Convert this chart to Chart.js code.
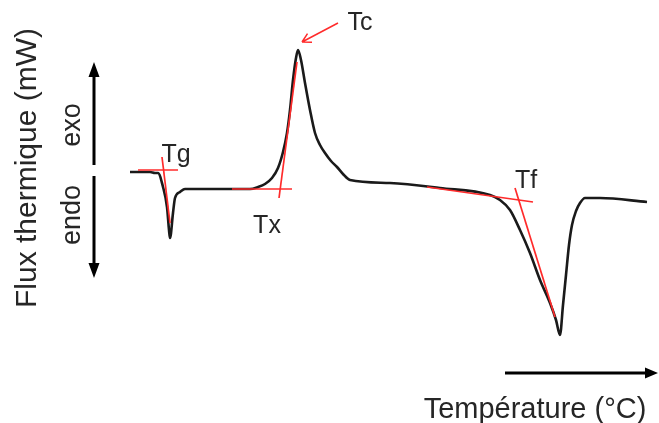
<!DOCTYPE html>
<html>
<head>
<meta charset="utf-8">
<script src="https://cdn.jsdelivr.net/npm/chart.js@4.4.0/dist/chart.umd.min.js"></script>
<style>
  html, body { margin: 0; padding: 0; background: #fff; }
  #wrap { width: 659px; height: 423px; }
</style>
</head>
<body>
<div id="wrap"><canvas id="dsc" width="659" height="423"></canvas></div>
<script>
const temperature = [130, 150, 155, 158, 163, 167, 169, 170, 173, 175, 180, 185, 200, 250, 258, 265, 272, 278, 283, 287, 290, 293, 296, 298, 301, 305, 310, 315, 320, 325, 331, 337, 343, 350, 390, 440, 490, 500, 510, 520, 530, 540, 550, 556, 560, 563, 566, 569, 572, 576, 580, 585, 600, 647];
const flux = [251, 251, 250, 250, 236, 216, 193, 185, 210, 225, 231, 234, 234, 234, 236, 239, 245, 255, 271, 290, 313, 343, 365, 373, 363, 340, 313, 290, 278, 270, 262, 256, 249, 243, 240, 235, 228, 223, 213, 193, 170, 143, 120, 103, 88, 118, 148, 178, 198, 212, 220, 225, 225, 221];

// tangentes (rouge) : [x1, x2] et [y1, y2]
const tgBaseX = [138, 178], tgBaseY = [253, 253];
const tgSlopeX = [162, 170], tgSlopeY = [266, 200];
const txBaseX = [232, 292], txBaseY = [234, 234];
const txSlopeX = [279, 297], txSlopeY = [225, 361];
const tfBaseX = [427, 533], tfBaseY = [236, 221];
const tfSlopeX = [515, 555], tfSlopeY = [235, 106];

const pts = (xs, ys) => xs.map((x, i) => ({ x: x, y: ys[i] }));

const red = '#ff2b2b';
const ink = '#262626';

function redLine(xs, ys) {
    return {
        data: pts(xs, ys),
        borderColor: red,
        borderWidth: 1.7,
        pointRadius: 0,
        tension: 0,
        order: 0
    };
}

// annotations : flèches, étiquettes, titres
const annotations = {
    id: 'annotations',
    afterDatasetsDraw(chart) {
        const c = chart.ctx;
        const sx = chart.scales.x, sy = chart.scales.y;
        const X = v => sx.getPixelForValue(v);
        const Y = v => sy.getPixelForValue(v);

        c.save();

        // flèche Tc
        const ax1 = X(338), ay1 = Y(400), ax2 = X(302), ay2 = Y(381);
        c.strokeStyle = red;
        c.lineWidth = 1.5;
        c.beginPath();
        c.moveTo(ax1, ay1);
        c.lineTo(ax2, ay2);
        const ang = Math.atan2(ay2 - ay1, ax2 - ax1);
        c.moveTo(ax2, ay2);
        c.lineTo(ax2 - 10 * Math.cos(ang - 0.5), ay2 - 10 * Math.sin(ang - 0.5));
        c.moveTo(ax2, ay2);
        c.lineTo(ax2 - 10 * Math.cos(ang + 0.5), ay2 - 10 * Math.sin(ang + 0.5));
        c.stroke();

        // flèches exo / endo
        c.strokeStyle = '#000';
        c.fillStyle = '#000';
        c.lineWidth = 3;
        c.beginPath();
        c.moveTo(X(94), Y(258)); c.lineTo(X(94), Y(350));
        c.moveTo(X(94), Y(247)); c.lineTo(X(94), Y(155));
        c.moveTo(X(505), Y(50)); c.lineTo(X(648), Y(50));
        c.stroke();
        c.beginPath();
        c.moveTo(X(94), Y(361)); c.lineTo(X(88.5), Y(346)); c.lineTo(X(99.5), Y(346)); c.closePath();
        c.moveTo(X(94), Y(145)); c.lineTo(X(88.5), Y(160)); c.lineTo(X(99.5), Y(160)); c.closePath();
        c.moveTo(X(658), Y(50)); c.lineTo(X(645), Y(55.5)); c.lineTo(X(645), Y(44.5)); c.closePath();
        c.fill();

        // étiquettes des températures caractéristiques
        c.fillStyle = ink;
        c.font = '25px "Liberation Sans", Arial, sans-serif';
        c.textAlign = 'center';
        c.textBaseline = 'alphabetic';
        c.fillText('Tg', X(176), Y(261));
        c.fillText('Tx', X(267), Y(190));
        c.fillText('Tc', X(360), Y(393));
        c.fillText('Tf', X(526), Y(235));

        // titres des axes
        c.font = '29px "Liberation Sans", Arial, sans-serif';
        c.fillText('Température (°C)', X(535), Y(5));

        c.save();
        c.translate(X(36), Y(255));
        c.rotate(-Math.PI / 2);
        c.font = '30px "Liberation Sans", Arial, sans-serif';
        c.fillText('Flux thermique (mW)', 0, 0);
        c.restore();

        c.font = '27px "Liberation Sans", Arial, sans-serif';
        c.save();
        c.translate(X(80), Y(298));
        c.rotate(-Math.PI / 2);
        c.fillText('exo', 0, 0);
        c.restore();
        c.save();
        c.translate(X(80), Y(208));
        c.rotate(-Math.PI / 2);
        c.fillText('endo', 0, 0);
        c.restore();

        c.restore();
    }
};

new Chart(document.getElementById('dsc').getContext('2d'), {
    type: 'line',
    data: {
        datasets: [
            {
                data: pts(temperature, flux),
                borderColor: '#1a1a1a',
                borderWidth: 2.6,
                pointRadius: 0,
                cubicInterpolationMode: 'monotone',
                order: 1
            },
            redLine(tgBaseX, tgBaseY),
            redLine(tgSlopeX, tgSlopeY),
            redLine(txBaseX, txBaseY),
            redLine(txSlopeX, txSlopeY),
            redLine(tfBaseX, tfBaseY),
            redLine(tfSlopeX, tfSlopeY)
        ]
    },
    options: {
        responsive: false,
        animation: false,
        layout: { padding: 0 },
        scales: {
            x: { type: 'linear', min: 0, max: 659, display: false },
            y: { type: 'linear', min: 0, max: 423, display: false }
        },
        plugins: {
            legend: { display: false },
            tooltip: { enabled: false }
        }
    },
    plugins: [annotations]
});
</script>
</body>
</html>
